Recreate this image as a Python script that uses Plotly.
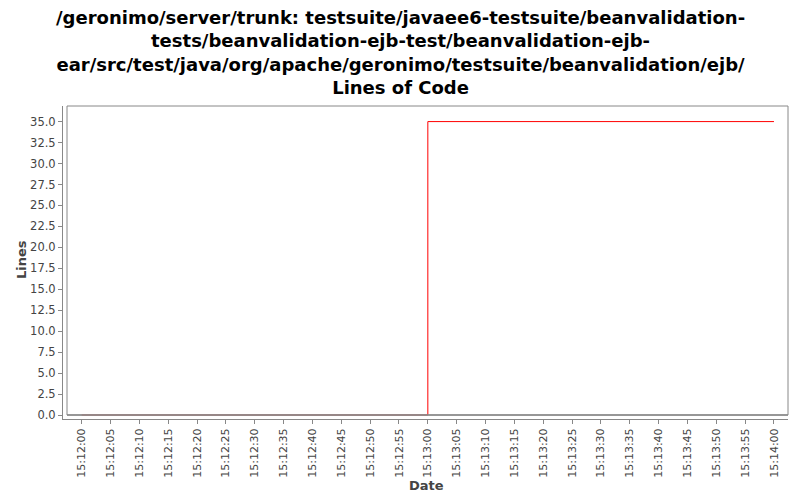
import plotly.graph_objects as go

dates = ["2000-01-01 15:12:00", "2000-01-01 15:13:00", "2000-01-01 15:14:00"]
lines = [0, 35, 35]

title_lines = [
    "/geronimo/server/trunk: testsuite/javaee6-testsuite/beanvalidation-",
    "tests/beanvalidation-ejb-test/beanvalidation-ejb-",
    "ear/src/test/java/org/apache/geronimo/testsuite/beanvalidation/ejb/",
    "Lines of Code",
]
x_ticks = ["2000-01-01 15:12:%02d" % s for s in range(0, 60, 5)] + \
          ["2000-01-01 15:13:%02d" % s for s in range(0, 60, 5)] + ["2000-01-01 15:14:00"]
x_ticktext = [t[11:] for t in x_ticks]
y_ticks = [i * 2.5 for i in range(15)]

y_top = 36.86
y_bot = -4 * y_top / 309

fig = go.Figure()
fig.add_trace(go.Scatter(x=dates, y=lines, mode="lines", line_shape="hv",
                         line=dict(color="#ff0000", width=1), showlegend=False))

fig.update_layout(
    width=800, height=500,
    margin=dict(l=63, r=12, t=106, b=81, autoexpand=False),
    paper_bgcolor="white", plot_bgcolor="white",
    xaxis=dict(range=["2000-01-01 15:11:56.76", "2000-01-01 15:14:02.43"],
               tickvals=x_ticks, ticktext=x_ticktext, tickangle=-90, automargin=False,
               showgrid=False, zeroline=False, showline=True, linecolor="#888888",
               ticks="outside", ticklen=4, tickcolor="#888888",
               tickfont=dict(family="DejaVu Sans", size=11, color="#444444")),
    yaxis=dict(range=[y_bot, y_top], tickvals=y_ticks, ticktext=["%.1f" % v for v in y_ticks],
               automargin=False,
               showgrid=False, zeroline=False, showline=True, linecolor="#888888",
               ticks="outside", ticklen=4, tickcolor="#888888",
               tickfont=dict(family="DejaVu Sans", size=11.5, color="#444444")),
)
fig.add_annotation(text="<br>".join("<b>%s</b>" % t for t in title_lines),
                   xref="paper", yref="paper", x=(400 - 63) / 725, xanchor="center",
                   y=1 + 101 / 313, yanchor="top", showarrow=False,
                   font=dict(family="DejaVu Sans", size=18, color="black"))
fig.add_annotation(text="<b>Date</b>", xref="paper", yref="paper",
                   x=(426 - 63) / 725, xanchor="center", y=-(485 - 419) / 313, yanchor="middle",
                   showarrow=False, font=dict(family="DejaVu Sans", size=13, color="#444444"))
fig.add_annotation(text="<b>Lines</b>", xref="paper", yref="paper", textangle=-90,
                   x=-(63 - 21) / 725, xanchor="center", y=(419 - 260) / 313, yanchor="middle",
                   showarrow=False, font=dict(family="DejaVu Sans", size=13, color="#444444"))
fig.add_shape(type="rect", xref="paper", yref="paper",
              x0=4 / 725, x1=1, y0=4 / 313, y1=1,
              line=dict(color="#888888", width=1), layer="above")
fig.add_shape(type="line", xref="paper", yref="y",
              x0=4 / 725, x1=1, y0=0, y1=0,
              line=dict(color="#888888", width=1.5), layer="above")

fig.write_html("out.html")
